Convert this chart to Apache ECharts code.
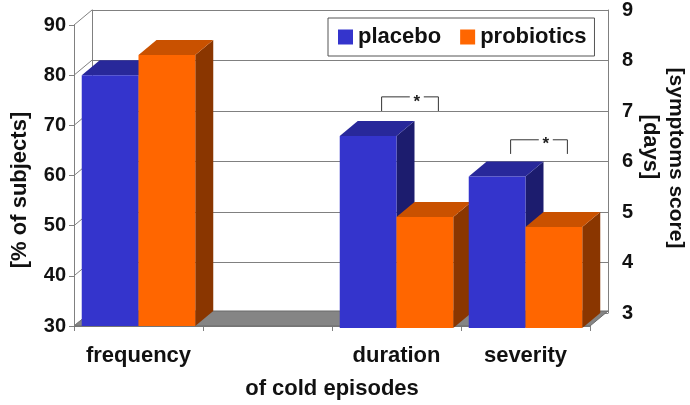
<!DOCTYPE html>
<html>
<head>
<meta charset="utf-8">
<script src="https://cdn.jsdelivr.net/npm/echarts@6/dist/echarts.min.js"></script>
<style>
  html, body { margin: 0; padding: 0; background: #fff; }
  #chart { width: 690px; height: 405px; }
</style>
</head>
<body>
<div id="chart"></div>
<script>
// categories (second slot is an empty gap in the original)
const categories = ['frequency', '', 'duration', 'severity'];
// left axis: % of subjects
const placeboPct = [80, null, null, null];
const probioticsPct = [84, null, null, null];
// right axis: days / symptoms score
const placeboDays = [null, null, 6.8, 6.0];
const probioticsDays = [null, null, 5.2, 5.0];
// axis ranges
const pctMin = 30, pctMax = 90, pctStep = 10;
const dayMin = 3, dayMax = 9, dayStep = 1;
const pctTicks = [30, 40, 50, 60, 70, 80, 90];
// significance brackets (category, leg bottom, bar top on right axis)
const sigCats = [2, 3];
const sigBase = [7.0, 6.15];
const sigTop = [7.28, 6.43];

const FONT = '"Liberation Sans", Arial, sans-serif';
const DX = 18, DY = 15;          // depth offset of the back wall
const colors = {
  placebo: { front: '#3434cc', top: '#28289a', side: '#1c1c6e' },
  probiotics: { front: '#ff6600', top: '#c95100', side: '#8a3600' }
};

let chart = echarts.init(document.getElementById('chart'));

function barRender(group, onBack) {
  let c = group === 0 ? colors.placebo : colors.probiotics;
  return function (params, api) {
    let cat = api.value(0), v = api.value(1);
    if (isNaN(v)) return;
    let bw = api.size([1, 0])[0];
    let w = bw * 0.44;
    let top = api.coord([cat, v]);
    let base = api.coord([cat, onBack ? dayMin : pctMin]);
    if (onBack) {
      top = [top[0] - DX, top[1] + DY];
      base = [base[0] - DX, base[1] + DY];
    }
    let cx = top[0] + (group === 0 ? -w / 2 : w / 2);
    let x0 = cx - w / 2, x1 = cx + w / 2, yt = top[1], yb = base[1];
    let z = cat * 10 + group * 4;
    return {
      type: 'group',
      children: [
        { type: 'polygon', z2: z,
          shape: { points: [[x1, yt], [x1 + DX, yt - DY], [x1 + DX, yb - DY], [x1, yb]] },
          style: { fill: c.side } },
        { type: 'polygon', z2: z + 1,
          shape: { points: [[x0, yt], [x1, yt], [x1 + DX, yt - DY], [x0 + DX, yt - DY]] },
          style: { fill: c.top } },
        { type: 'rect', z2: z + 2,
          shape: { x: x0, y: yt, width: w, height: yb - yt },
          style: { fill: c.front } }
      ]
    };
  };
}

function frameRender(params, api) {
  let cs = params.coordSys;
  let yb = cs.y + cs.height, xl = cs.x, xr = cs.x + cs.width;
  let kids = [
    { type: 'polygon', z2: -20,
      shape: { points: [[xl, yb], [xr, yb], [xr + DX, yb - DY], [xl + DX, yb - DY]] },
      style: { fill: '#858585', stroke: '#6a6a6a', lineWidth: 1 } }
  ];
  pctTicks.forEach(function (t) {
    let y = api.coord([0, t])[1];
    kids.push({ type: 'line', z2: -19,
      shape: { x1: xl, y1: y, x2: xl + DX, y2: y - DY },
      style: { stroke: '#808080', lineWidth: 1 } });
  });
  return { type: 'group', children: kids };
}

function bracketRender(params, api) {
  let cat = api.value(0);
  let bw = api.size([1, 0])[0];
  let w = bw * 0.44;
  let p = api.coord([cat, api.value(2)]);
  let b = api.coord([cat, api.value(1)]);
  let xl = p[0] - w / 2 - DX * 0.25, xr = p[0] + w / 2 - DX * 0.25;
  let sx = (xl + xr) / 2 + 0.12 * (xr - xl);
  let st = { stroke: '#333', lineWidth: 1, fill: null };
  return {
    type: 'group',
    children: [
      { type: 'polyline', z2: 100, shape: { points: [[xl, b[1]], [xl, p[1]], [sx - 7, p[1]]] }, style: st },
      { type: 'polyline', z2: 100, shape: { points: [[sx + 7, p[1]], [xr, p[1]], [xr, b[1]]] }, style: st },
      { type: 'text', z2: 100, x: sx, y: p[1] + 5,
        style: { text: '*', font: 'bold 17px ' + FONT, fill: '#222', align: 'center', verticalAlign: 'middle' } }
    ]
  };
}

function pairs(arr) { return arr.map(function (v, i) { return [i, v == null ? NaN : v]; }); }

let labelStyle = { fontFamily: FONT, fontWeight: 'bold', color: '#111' };

let option = {
  animation: false,
  grid: [
    { left: 74, top: 25, width: 516, height: 303 },
    { left: 74 + DX, top: 25 - DY, width: 516, height: 303 }
  ],
  legend: {
    data: ['placebo', 'probiotics'],
    left: 328, top: 18,
    padding: [8, 8, 8, 10],
    itemGap: 19, itemWidth: 15, itemHeight: 15,
    icon: 'rect',
    selectedMode: false,
    backgroundColor: '#fff',
    borderColor: '#555', borderWidth: 1,
    textStyle: Object.assign({ fontSize: 22 }, labelStyle)
  },
  xAxis: [
    {
      type: 'category', gridIndex: 0, data: categories,
      axisLine: { lineStyle: { color: '#808080' } },
      axisTick: { show: true, interval: 0, length: 5, lineStyle: { color: '#808080' } },
      axisLabel: Object.assign({ fontSize: 22, margin: 19, interval: 0 }, labelStyle),
      name: 'of cold episodes', nameLocation: 'middle', nameGap: 52,
      nameTextStyle: Object.assign({ fontSize: 22 }, labelStyle)
    },
    {
      type: 'category', gridIndex: 1, data: categories, position: 'top',
      axisLine: { lineStyle: { color: '#808080' } },
      axisTick: { show: false }, axisLabel: { show: false }
    }
  ],
  yAxis: [
    {
      type: 'value', gridIndex: 0, min: pctMin, max: pctMax, interval: pctStep,
      axisLine: { show: true, lineStyle: { color: '#808080' } },
      axisTick: { show: true, length: 5, lineStyle: { color: '#808080' } },
      splitLine: { show: false },
      axisLabel: Object.assign({ fontSize: 20, margin: 8 }, labelStyle)
    },
    {
      type: 'value', gridIndex: 1, position: 'right', min: dayMin, max: dayMax, interval: dayStep,
      axisLine: { show: true, lineStyle: { color: '#808080' } },
      axisTick: { show: false },
      splitLine: { show: true, lineStyle: { color: '#808080' } },
      axisLabel: Object.assign({ fontSize: 20, margin: 14, padding: [10, 0, 0, 0] }, labelStyle)
    },
    {
      type: 'value', gridIndex: 1, position: 'left', min: dayMin, max: dayMax, interval: dayStep,
      axisLine: { show: true, lineStyle: { color: '#808080' } },
      axisTick: { show: false }, axisLabel: { show: false }, splitLine: { show: false }
    }
  ],
  graphic: [
    { type: 'text', x: 20, y: 190, rotation: Math.PI / 2,
      style: { text: '[% of subjects]', font: 'bold 22px ' + FONT, fill: '#111', align: 'center', verticalAlign: 'middle' } },
    { type: 'text', x: 676, y: 158, rotation: -Math.PI / 2,
      style: { text: '[symptoms score]', font: 'bold 21px ' + FONT, fill: '#111', align: 'center', verticalAlign: 'middle' } },
    { type: 'text', x: 650, y: 147, rotation: -Math.PI / 2,
      style: { text: '[days]', font: 'bold 22px ' + FONT, fill: '#111', align: 'center', verticalAlign: 'middle' } }
  ],
  series: [
    { type: 'custom', name: 'frame', xAxisIndex: 0, yAxisIndex: 0, data: [[0, pctMin]],
      renderItem: frameRender, silent: true },
    { type: 'custom', name: 'placebo', xAxisIndex: 0, yAxisIndex: 0,
      itemStyle: { color: colors.placebo.front }, data: pairs(placeboPct), renderItem: barRender(0, false) },
    { type: 'custom', name: 'probiotics', xAxisIndex: 0, yAxisIndex: 0,
      itemStyle: { color: colors.probiotics.front }, data: pairs(probioticsPct), renderItem: barRender(1, false) },
    { type: 'custom', name: 'placebo', xAxisIndex: 1, yAxisIndex: 1,
      itemStyle: { color: colors.placebo.front }, data: pairs(placeboDays), renderItem: barRender(0, true) },
    { type: 'custom', name: 'probiotics', xAxisIndex: 1, yAxisIndex: 1,
      itemStyle: { color: colors.probiotics.front }, data: pairs(probioticsDays), renderItem: barRender(1, true) },
    { type: 'custom', name: 'sig', xAxisIndex: 1, yAxisIndex: 1,
      data: sigCats.map(function (c, i) { return [c, sigBase[i], sigTop[i]]; }),
      renderItem: bracketRender, silent: true }
  ]
};
chart.setOption(option);
</script>
</body>
</html>
